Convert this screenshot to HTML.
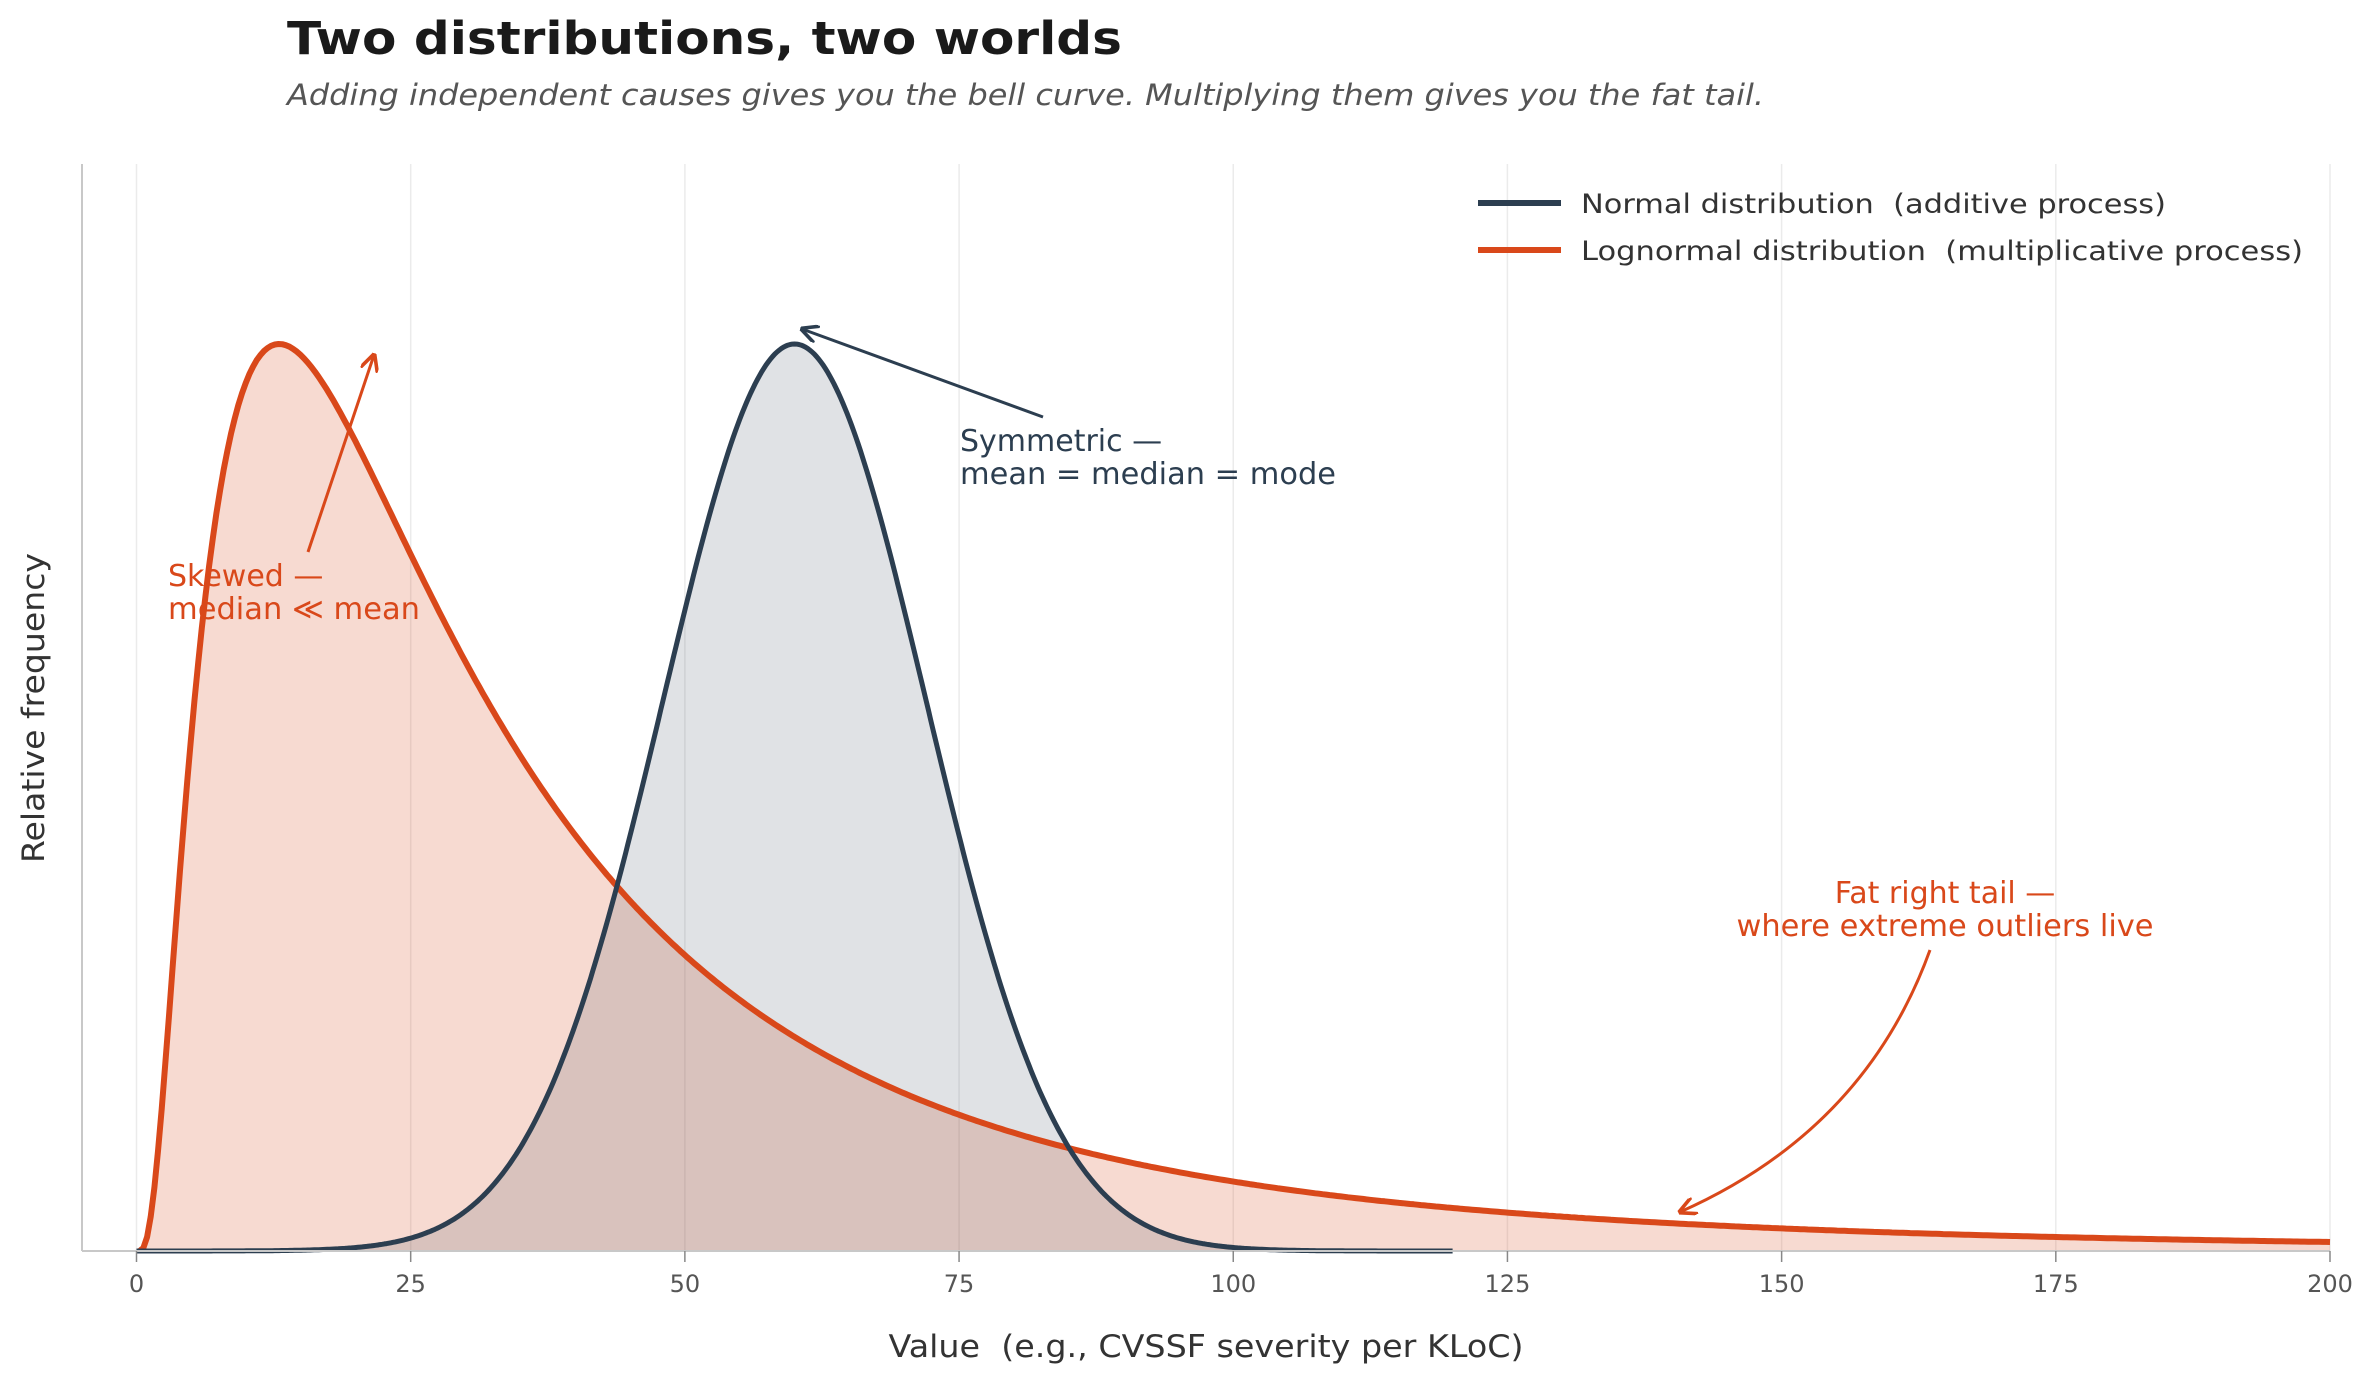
<!DOCTYPE html>
<html><head><meta charset="utf-8"><style>
html,body{margin:0;padding:0;background:#fff;}
svg{display:block;font-family:"DejaVu Sans","Liberation Sans",sans-serif;}
text{white-space:pre;}
</style></head><body>
<svg id="chart" width="2377" height="1381" viewBox="0 0 2377 1381" xmlns="http://www.w3.org/2000/svg">
<defs>
<marker id="arrO" viewBox="0 0 10 10" refX="9" refY="5" markerWidth="6" markerHeight="6" orient="auto"><path d="M0,0 L10,5 L0,10" fill="none" stroke="#d9481a" stroke-width="2"/></marker>
<marker id="arrN" viewBox="0 0 10 10" refX="9" refY="5" markerWidth="6" markerHeight="6" orient="auto"><path d="M0,0 L10,5 L0,10" fill="none" stroke="#2c3e50" stroke-width="2"/></marker>
</defs>
<text x="287" y="54" font-size="45" font-weight="bold" fill="#1a1a1a" textLength="835" lengthAdjust="spacingAndGlyphs">Two distributions, two worlds</text>
<text x="287" y="105" font-size="29" font-style="italic" fill="#555" textLength="1477" lengthAdjust="spacingAndGlyphs">Adding independent causes gives you the bell curve. Multiplying them gives you the fat tail.</text>
<g id="grid"></g>
<g id="marks"></g>
<line x1="82" y1="164" x2="82" y2="1251" stroke="#c8c8c8" stroke-width="2"/>
<line x1="82" y1="1251" x2="2330" y2="1251" stroke="#c8c8c8" stroke-width="2"/>
<g id="ticks"></g>
<text x="1206" y="1357" font-size="31" fill="#333" text-anchor="middle" textLength="635" lengthAdjust="spacingAndGlyphs" xml:space="preserve">Value  (e.g., CVSSF severity per KLoC)</text>
<text transform="translate(44,708) rotate(-90)" font-size="31" fill="#333" text-anchor="middle" textLength="310" lengthAdjust="spacingAndGlyphs">Relative frequency</text>
<g>
<line x1="1478" y1="203" x2="1561" y2="203" stroke="#2c3e50" stroke-width="6"/>
<text x="1581" y="213" font-size="27" fill="#333" textLength="585" lengthAdjust="spacingAndGlyphs" xml:space="preserve">Normal distribution  (additive process)</text>
<line x1="1478" y1="250" x2="1561" y2="250" stroke="#d9481a" stroke-width="6"/>
<text x="1581" y="260" font-size="27" fill="#333" textLength="722" lengthAdjust="spacingAndGlyphs" xml:space="preserve">Lognormal distribution  (multiplicative process)</text>
</g>
<g>
<line x1="1043" y1="417" x2="802" y2="329" stroke="#2c3e50" stroke-width="3" marker-end="url(#arrN)"/>
<text x="960" y="451" font-size="30" fill="#2c3e50">Symmetric —</text>
<text x="960" y="484" font-size="30" fill="#2c3e50" textLength="376" lengthAdjust="spacingAndGlyphs">mean = median = mode</text>
</g>
<g>
<line x1="308" y1="552" x2="374" y2="355" stroke="#d9481a" stroke-width="3" marker-end="url(#arrO)"/>
<text x="168" y="586" font-size="30" fill="#d9481a">Skewed —</text>
<text x="168" y="619" font-size="30" fill="#d9481a" textLength="252" lengthAdjust="spacingAndGlyphs">median ≪ mean</text>
</g>
<g>
<path d="M1930,950 Q1865,1130 1680,1212" fill="none" stroke="#d9481a" stroke-width="3" marker-end="url(#arrO)"/>
<text x="1945" y="903" font-size="30" fill="#d9481a" text-anchor="middle">Fat right tail —</text>
<text x="1945" y="936" font-size="30" fill="#d9481a" text-anchor="middle" textLength="417" lengthAdjust="spacingAndGlyphs">where extreme outliers live</text>
</g>
</svg>
<script>
const xTicks = [0, 25, 50, 75, 100, 125, 150, 175, 200];
const seriesNames = ["normal", "lognormal"];
const normalParams = [60, 12];          // mean, sd
const lognormalParams = [3.375, 0.9];   // mu, sigma (log space)
const normalRange = [0, 120];
const lognormalRange = [0.3, 200];

const NS = "http://www.w3.org/2000/svg";
const X0 = 136.5, X1 = 2330, YB = 1251, YTOP = 344;
const xScale = v => X0 + (v / 200) * (X1 - X0);
const yScale = r => YB - r * (YB - YTOP);

function normPdf(x){const [m,s]=normalParams;return Math.exp(-((x-m)**2)/(2*s*s));}
function lnPdf(x){const [mu,s]=lognormalParams;return Math.exp(-((Math.log(x)-mu)**2)/(2*s*s))/x;}
function curve(fn, range){
  let pts=[],mx=0;
  for(let i=0;i<=600;i++){const x=range[0]+(range[1]-range[0])*i/600;const y=fn(x);pts.push([x,y]);if(y>mx)mx=y;}
  return pts.map(p=>[xScale(p[0]),yScale(p[1]/mx)]);
}
const grid=document.getElementById('grid'), ticks=document.getElementById('ticks'), marks=document.getElementById('marks');
xTicks.forEach(t=>{
  const gx=xScale(t);
  const g=document.createElementNS(NS,'line');
  
  
  g.setAttribute('x1',gx);g.setAttribute('x2',gx);g.setAttribute('y1',164);g.setAttribute('y2',YB);
  g.setAttribute('stroke','#ebebeb');g.setAttribute('stroke-width','1.5');grid.appendChild(g);
  const tk=document.createElementNS(NS,'line');
  
  
  tk.setAttribute('x1',gx);tk.setAttribute('x2',gx);tk.setAttribute('y1',YB);tk.setAttribute('y2',YB+11);
  tk.setAttribute('stroke','#888');tk.setAttribute('stroke-width','1.5');ticks.appendChild(tk);
  const tl=document.createElementNS(NS,'text');
  
  
  tl.setAttribute('x',gx);tl.setAttribute('y',1292);tl.setAttribute('text-anchor','middle');
  tl.setAttribute('font-size','24');tl.setAttribute('fill','#555');tl.textContent=t;ticks.appendChild(tl);
});
const defs=[
  {name:seriesNames[1],pts:curve(lnPdf,lognormalRange),color:'#d9481a',fill:'rgba(217,72,26,0.2)',w:6},
  {name:seriesNames[0],pts:curve(normPdf,normalRange),color:'#2c3e50',fill:'rgba(44,62,80,0.15)',w:5}
];
defs.forEach(d=>{
  const line=d.pts.map((p,i)=>(i?'L':'M')+p[0].toFixed(1)+','+p[1].toFixed(1)).join('');
  const area=line+'L'+d.pts[d.pts.length-1][0].toFixed(1)+','+YB+'L'+d.pts[0][0].toFixed(1)+','+YB+'Z';
  const a=document.createElementNS(NS,'path');
  
  
  a.setAttribute('d',area);a.setAttribute('fill',d.fill);marks.appendChild(a);
});
defs.forEach(d=>{
  const line=d.pts.map((p,i)=>(i?'L':'M')+p[0].toFixed(1)+','+p[1].toFixed(1)).join('');
  const l=document.createElementNS(NS,'path');
  
  
  l.setAttribute('d',line);l.setAttribute('fill','none');l.setAttribute('stroke',d.color);
  l.setAttribute('stroke-width',d.w);l.setAttribute('stroke-linejoin','round');marks.appendChild(l);
});
</script>
</body></html>
